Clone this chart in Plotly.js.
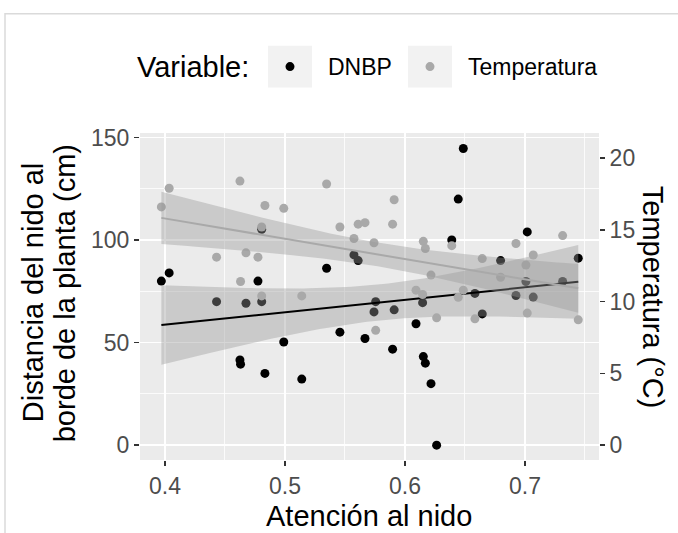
<!DOCTYPE html>
<html>
<head>
<meta charset="utf-8">
<script src="https://cdn.plot.ly/plotly-3.0.1.min.js"></script>
<style>html,body{margin:0;padding:0;background:#fff;}#chart{width:678px;height:533px;}</style>
</head>
<body>
<div id="chart"></div>
<script>
// Atención al nido (x), shared by both variables
const atencion = [0.397,0.4035,0.443,0.4625,0.463,0.4675,0.4775,0.4806,0.4806,0.4833,0.499,0.514,0.5347,0.5458,0.5575,0.561,0.5667,0.5742,0.5756,0.5897,0.591,0.6092,0.6147,0.6153,0.617,0.6217,0.6264,0.639,0.6444,0.6486,0.6583,0.6644,0.6797,0.6925,0.7008,0.7019,0.7069,0.7314,0.7444];
// DNBP: distancia del nido al borde de la planta (cm)
const dnbp = [80,84,70,41.5,39.5,69.2,80,70,105.3,35,50.3,32.2,86.3,55.1,92.8,90,52,65,70,46.8,66,59.2,69.5,43.2,40,30,0,100.1,120,144.7,74,64,90,73,79.8,104,72.2,79.8,91.2];
// Temperatura (°C), same nests, x order
const temperatura = [16.6,17.9,13.1,18.4,11.4,13.4,13.1,10.4,15.2,16.7,16.5,10.4,18.2,15.2,14.4,15.4,15.5,14.1,8.0,15.4,17.1,10.8,10.5,14.2,13.7,11.85,8.87,13.9,10.3,10.8,8.8,13.0,11.7,14.05,12.55,9.2,13.25,14.6,8.73];

const xTicks = [0.4,0.5,0.6,0.7];
const yLeftTicks = [0,50,100,150];
const yRightTicks = [0,5,10,15,20];
const seriesNames = ['DNBP','Temperatura'];

const COL_DNBP = '#000000';
const COL_TEMP = '#A9A9A9';
const BAND = 'rgba(153,153,153,0.4)';
const FONT = 'Liberation Sans, Arial, Helvetica, sans-serif';

// linear model (lm) with 95% confidence band, like geom_smooth(method="lm")
function lmBand(x, y, npts) {
  const n = x.length;
  const mx = x.reduce((a,b)=>a+b,0)/n, my = y.reduce((a,b)=>a+b,0)/n;
  let sxx=0, sxy=0;
  for (let i=0;i<n;i++){ sxx+=(x[i]-mx)**2; sxy+=(x[i]-mx)*(y[i]-my); }
  const b = sxy/sxx, a = my - b*mx;
  let sse=0; for (let i=0;i<n;i++){ sse += (y[i]-(a+b*x[i]))**2; }
  const s = Math.sqrt(sse/(n-2));
  const t = 2.0262; // qt(0.975, 37)
  const xmin = Math.min(...x), xmax = Math.max(...x);
  const xs=[], fit=[], lo=[], hi=[];
  for (let k=0;k<npts;k++){
    const xv = xmin + (xmax-xmin)*k/(npts-1);
    const f = a + b*xv;
    const se = s*Math.sqrt(1/n + (xv-mx)**2/sxx);
    xs.push(xv); fit.push(f); lo.push(f - t*se); hi.push(f + t*se);
  }
  return {xs, fit, lo, hi};
}

const fD = lmBand(atencion, dnbp, 80);
const fT = lmBand(atencion, temperatura, 80);

function bandTrace(f, yaxis) {
  return {x: f.xs.concat(f.xs.slice().reverse()), y: f.hi.concat(f.lo.slice().reverse()),
    type:'scatter', mode:'lines', fill:'toself', fillcolor:BAND, line:{width:0}, hoverinfo:'skip',
    showlegend:false, yaxis:yaxis};
}

const traces = [
  {x: atencion, y: dnbp, type:'scatter', mode:'markers', name: seriesNames[0],
   marker:{color:COL_DNBP, size:9}, yaxis:'y', showlegend:false},
  bandTrace(fD,'y'),
  {x: fD.xs, y: fD.fit, type:'scatter', mode:'lines', line:{color:COL_DNBP, width:2}, showlegend:false, yaxis:'y'},
  {x: atencion, y: temperatura, type:'scatter', mode:'markers', name: seriesNames[1],
   marker:{color:COL_TEMP, size:9}, yaxis:'y2', showlegend:false},
  bandTrace(fT,'y2'),
  {x: fT.xs, y: fT.fit, type:'scatter', mode:'lines', line:{color:COL_TEMP, width:2}, showlegend:false, yaxis:'y2'}
];

const L=140, R=599, T=132.5, B=460;
const px = v => (v - L)/(R - L);
const py = v => (B - v)/(B - T);

const tickFont = {family:FONT, size:23, color:'#4D4D4D'};
const axBase = {showline:false, zeroline:false, ticks:'outside', ticklen:5, tickwidth:1.3, tickcolor:'#333333',
  gridcolor:'#FFFFFF', gridwidth:1.6, tickfont:tickFont};
const titleFont = {family:FONT, size:29, color:'#000'};
const legFont = {family:FONT, size:23, color:'#000'};

// legend (ggplot style, drawn on top): key boxes, key dots, labels
const keyBoxes = [[268,312],[408,452]];
const keyDots = [290,430];
const keyColors = [COL_DNBP, COL_TEMP];
const keyLabelX = [328,468];

const shapes = [
  {type:'rect', xref:'paper', yref:'paper', x0:px(5), x1:px(700), y0:py(560), y1:py(13),
   line:{color:'#DADADA', width:1.5}, fillcolor:'rgba(0,0,0,0)', layer:'below'}
];
keyBoxes.forEach(b => shapes.push({type:'rect', xref:'paper', yref:'paper', x0:px(b[0]), x1:px(b[1]),
  y0:py(87), y1:py(45), line:{width:0}, fillcolor:'#F2F2F2', layer:'below'}));
keyDots.forEach((d,i) => shapes.push({type:'circle', xref:'paper', yref:'paper', xsizemode:'pixel', ysizemode:'pixel',
  xanchor:px(d), yanchor:py(66), x0:-4.5, x1:4.5, y0:-4.5, y1:4.5, line:{width:0}, fillcolor:keyColors[i], layer:'above'}));

const annotations = [
  {text:'Variable:', xref:'paper', yref:'paper', x:px(135), y:py(66), xanchor:'left', yanchor:'middle', showarrow:false, font:titleFont},
  {text:seriesNames[0], xref:'paper', yref:'paper', x:px(keyLabelX[0]-2), y:py(66), xanchor:'left', yanchor:'middle', showarrow:false, font:legFont},
  {text:seriesNames[1], xref:'paper', yref:'paper', x:px(keyLabelX[1]-2), y:py(66), xanchor:'left', yanchor:'middle', showarrow:false, font:legFont},
  {text:'Atención al nido', xref:'paper', yref:'paper', x:px(368.5), y:py(499), xanchor:'center', yanchor:'top',
   borderpad:0, showarrow:false, font:titleFont},
  {text:'Distancia del nido al', xref:'paper', yref:'paper', x:px(33), y:py(292), xanchor:'center', yanchor:'middle',
   textangle:-90, showarrow:false, font:titleFont},
  {text:'borde de la planta (cm)', xref:'paper', yref:'paper', x:px(65), y:py(293), xanchor:'center', yanchor:'middle',
   textangle:-90, showarrow:false, font:titleFont},
  {text:'Temperatura (°C)', xref:'paper', yref:'paper', x:px(653), y:py(296.5), xanchor:'center', yanchor:'middle',
   textangle:90, showarrow:false, font:titleFont}
];

const layout = {
  width:678, height:533,
  margin:{l:L, r:678-R, t:T, b:533-B, pad:0},
  paper_bgcolor:'#FFFFFF', plot_bgcolor:'#EBEBEB',
  font:{family:FONT},
  showlegend:false,
  xaxis:Object.assign({}, axBase, {range:[0.3792,0.7617], tickvals:xTicks, ticktext:xTicks.map(v=>v.toFixed(1)),
    minor:{tickvals:[0.45,0.55,0.65,0.75], showgrid:true, gridcolor:'#FFFFFF', gridwidth:0.8, ticks:''}}),
  yaxis:Object.assign({}, axBase, {range:[-7.25,152.25], tickvals:yLeftTicks, ticktext:yLeftTicks.map(String),
    minor:{tickvals:[25,75,125], showgrid:true, gridcolor:'#FFFFFF', gridwidth:0.8, ticks:''}}),
  yaxis2:Object.assign({}, axBase, {overlaying:'y', side:'right', range:[-7.25/7,152.25/7], showgrid:false,
    tickvals:yRightTicks, ticktext:yRightTicks.map(String)}),
  annotations: annotations,
  shapes: shapes
};

Plotly.newPlot('chart', traces, layout, {displayModeBar:false, staticPlot:true});
</script>
</body>
</html>
